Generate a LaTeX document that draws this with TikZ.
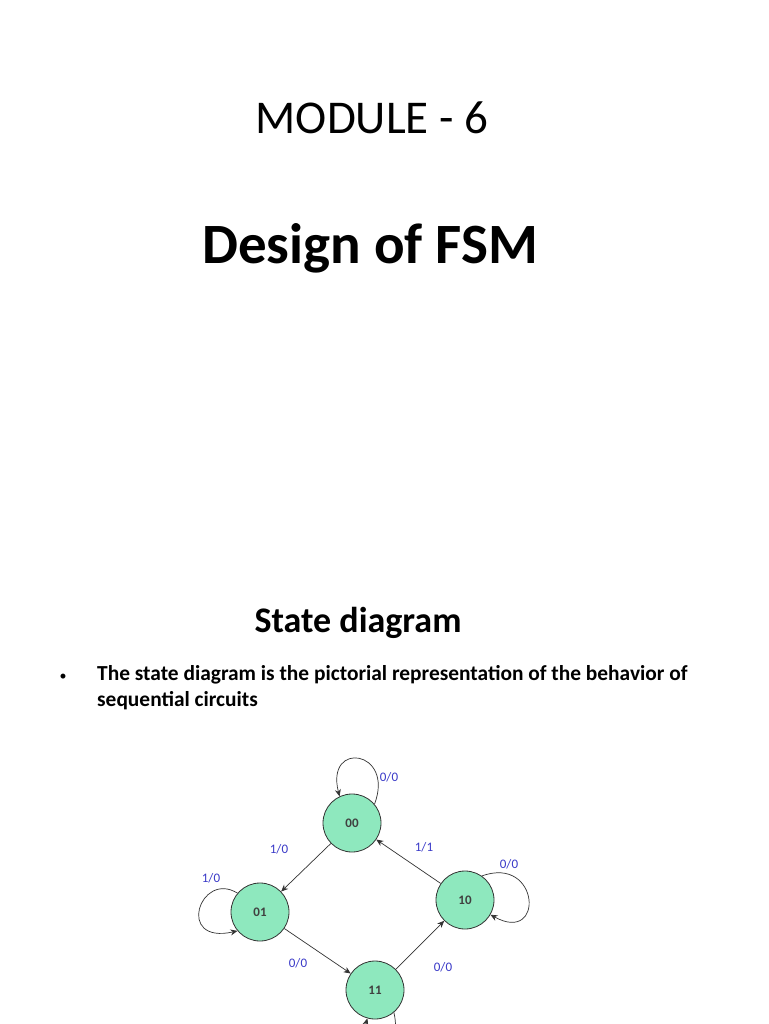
\documentclass[tikz,border=0pt]{standalone}
\usepackage{fontspec}
\setmainfont{Carlito}
\usetikzlibrary{arrows.meta}
\definecolor{stfill}{HTML}{8EE8BE}
\definecolor{lblue}{HTML}{3A3AC8}
\tikzset{
 st/.style={circle,draw=black!80,line width=0.8pt,fill=stfill,minimum size=58pt,inner sep=0pt,font=\fontsize{13}{14}\selectfont\bfseries\color{black!75}},
 tr/.style={-{Stealth[length=7pt,width=6pt]},line width=0.7pt,draw=black!80},
 lb/.style={font=\fontsize{13}{14}\selectfont\color{lblue}},
}
\begin{document}
\begin{tikzpicture}[x=1pt,y=-1pt]
\useasboundingbox (0,0) rectangle (768,1024);
\clip (0,0) rectangle (768,1024);
\fill[white] (0,0) rectangle (768,1024);
\node[font=\fontsize{47}{54}\selectfont] (t1) at (372,118) {MODULE - 6};
\node[font=\fontsize{57}{66}\selectfont\bfseries] (t2) at (370,248) {Design of FSM};
\node[font=\fontsize{36}{42}\selectfont\bfseries] (t3) at (358,623) {State diagram};
\node[font=\fontsize{14}{18}\selectfont] (bul) at (63,677) {•};
\node[anchor=north west,align=left,inner sep=0pt,font=\fontsize{21.4}{26}\selectfont\bfseries] (body) at (97,665) {The state diagram is the pictorial representation of the behavior of\\sequential circuits};
\node[st] (s00) at (352,823) {00};
\node[st] (s01) at (260,912) {01};
\node[st] (s10) at (465,900) {10};
\node[st] (s11) at (375,990) {11};
\draw[tr] (s00) -- (s01);
\draw[tr] (s01) -- (s11);
\draw[tr] (s11) -- (s10);
\draw[tr] (s10) -- (s00);
\draw[tr] (s00.40) .. controls (395,750) and (325,740) .. (s00.115);
\draw[tr] (s01.140) .. controls (200,870) and (175,945) .. (s01.220);
\draw[tr] (s10.55) .. controls (540,855) and (545,945) .. (s10.330);
\draw[tr] (s11.310) .. controls (405,1060) and (355,1060) .. (s11.255);
\node[lb] (l1) at (389,777) {0/0};
\node[lb] (l2) at (279,849) {1/0};
\node[lb] (l3) at (424,847) {1/1};
\node[lb] (l4) at (509,864) {0/0};
\node[lb] (l5) at (211,878) {1/0};
\node[lb] (l6) at (298,963) {0/0};
\node[lb] (l7) at (443,967) {0/0};
\end{tikzpicture}
\end{document}
